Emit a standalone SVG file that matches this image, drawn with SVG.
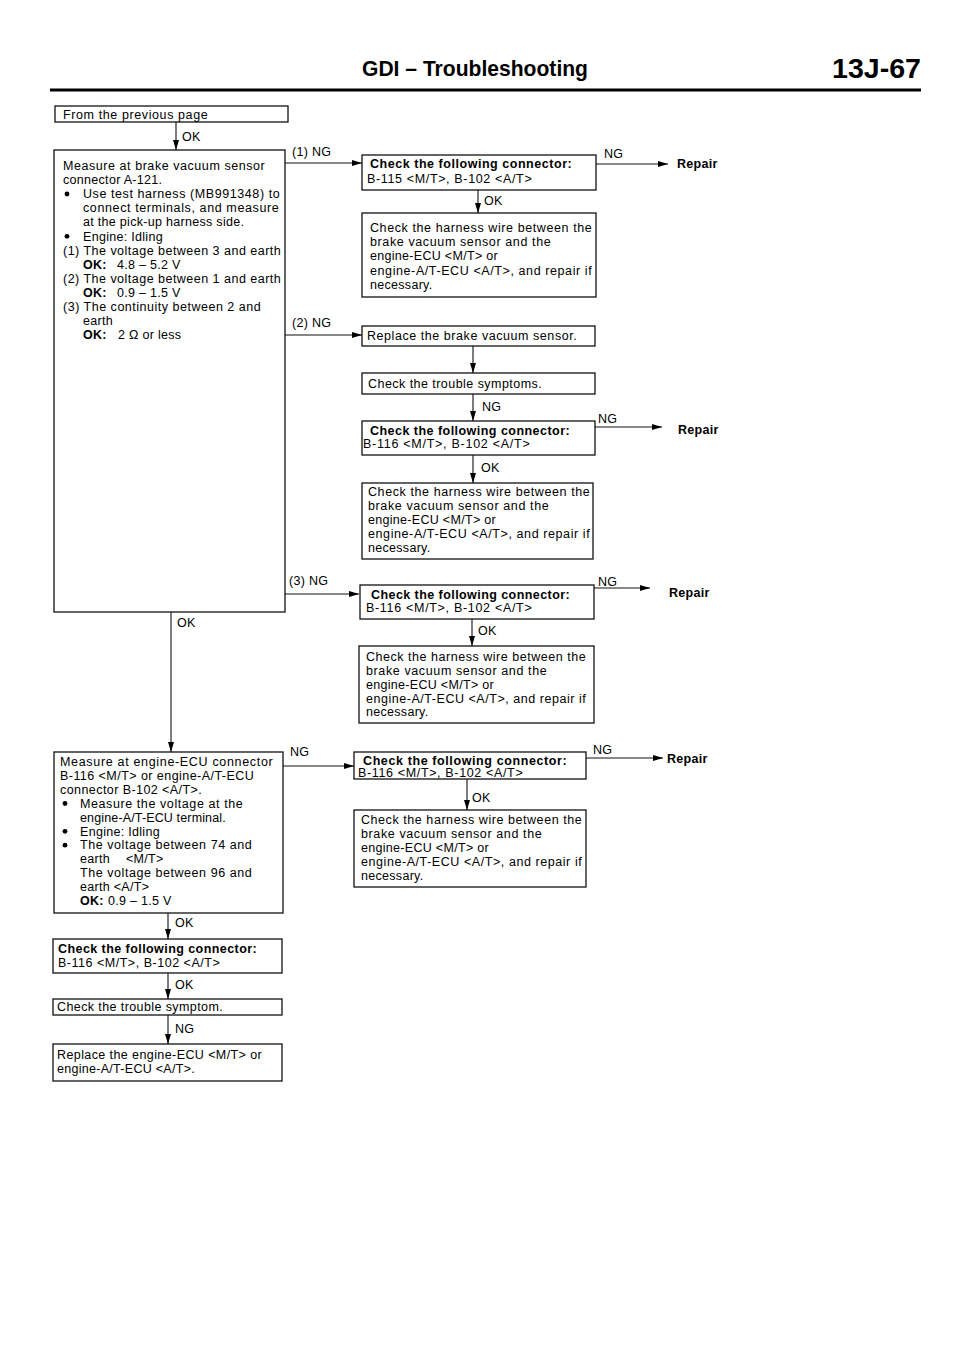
<svg xmlns="http://www.w3.org/2000/svg" width="960" height="1358" viewBox="0 0 960 1358">
<style>
.t{font-family:"Liberation Sans",Arial,Helvetica,sans-serif;font-size:12.5px;fill:#000;letter-spacing:0.3px}
.b{font-weight:bold}
.h{font-family:"Liberation Sans",Arial,Helvetica,sans-serif;font-weight:bold;fill:#000}
.box{fill:#fff;stroke:#111;stroke-width:1.3}
.ln{fill:none;stroke:#111;stroke-width:1.1}
</style>
<defs>
<marker id="ar" markerUnits="userSpaceOnUse" markerWidth="10" markerHeight="6" refX="10" refY="3" orient="auto">
<path d="M0,0 L10,3 L0,6 z" fill="#000"/>
</marker>
</defs>
<rect width="960" height="1358" fill="#fff"/>

<g id="header">
<text class="h" x="362" y="76" font-size="22" textLength="226" lengthAdjust="spacingAndGlyphs">GDI – Troubleshooting</text>
<text class="h" x="832" y="78" font-size="28" textLength="89" lengthAdjust="spacingAndGlyphs">13J-67</text>
<line x1="50" y1="90" x2="921" y2="90" stroke="#000" stroke-width="3"/>
</g>

<g id="connectors">
<line class="ln" x1="176" y1="122" x2="176" y2="150" marker-end="url(#ar)"/>
<text class="t" x="182" y="141">OK</text>
<line class="ln" x1="171" y1="612" x2="171" y2="752" marker-end="url(#ar)"/>
<text class="t" x="177" y="627">OK</text>
<line class="ln" x1="168" y1="913" x2="168" y2="939" marker-end="url(#ar)"/>
<text class="t" x="175" y="927">OK</text>
<line class="ln" x1="168" y1="973" x2="168" y2="999" marker-end="url(#ar)"/>
<text class="t" x="175" y="989">OK</text>
<line class="ln" x1="168" y1="1015" x2="168" y2="1044" marker-end="url(#ar)"/>
<text class="t" x="175" y="1033">NG</text>

<line class="ln" x1="285" y1="163" x2="362" y2="163" marker-end="url(#ar)"/>
<text class="t" x="292" y="156">(1) NG</text>
<line class="ln" x1="285" y1="335" x2="362" y2="335" marker-end="url(#ar)"/>
<text class="t" x="292" y="327">(2) NG</text>
<line class="ln" x1="285" y1="594" x2="359" y2="594" marker-end="url(#ar)"/>
<text class="t" x="289" y="585">(3) NG</text>
<line class="ln" x1="283" y1="766" x2="354" y2="766" marker-end="url(#ar)"/>
<text class="t" x="290" y="756">NG</text>

<line class="ln" x1="478" y1="190" x2="478" y2="213" marker-end="url(#ar)"/>
<text class="t" x="484" y="205">OK</text>
<line class="ln" x1="473" y1="346" x2="473" y2="373" marker-end="url(#ar)"/>
<line class="ln" x1="473" y1="394" x2="473" y2="421" marker-end="url(#ar)"/>
<text class="t" x="482" y="411">NG</text>
<line class="ln" x1="473" y1="455" x2="473" y2="483" marker-end="url(#ar)"/>
<text class="t" x="481" y="472">OK</text>
<line class="ln" x1="472" y1="619" x2="472" y2="646" marker-end="url(#ar)"/>
<text class="t" x="478" y="635">OK</text>
<line class="ln" x1="467" y1="779" x2="467" y2="810" marker-end="url(#ar)"/>
<text class="t" x="472" y="802">OK</text>

<line class="ln" x1="596" y1="164" x2="668" y2="164" marker-end="url(#ar)"/>
<text class="t" x="604" y="158">NG</text>
<text class="t b" x="677" y="168">Repair</text>
<line class="ln" x1="595" y1="427" x2="662" y2="427" marker-end="url(#ar)"/>
<text class="t" x="598" y="423">NG</text>
<text class="t b" x="678" y="434">Repair</text>
<line class="ln" x1="594" y1="588" x2="650" y2="588" marker-end="url(#ar)"/>
<text class="t" x="598" y="586">NG</text>
<text class="t b" x="669" y="597">Repair</text>
<line class="ln" x1="586" y1="758" x2="663" y2="758" marker-end="url(#ar)"/>
<text class="t" x="593" y="754">NG</text>
<text class="t b" x="667" y="763">Repair</text>
</g>

<g id="n0">
<rect class="box" x="55" y="106" width="233" height="16"/>
<text class="t" x="63" y="119" textLength="145">From the previous page</text>
</g>

<g id="n1">
<rect class="box" x="54" y="150" width="231" height="462"/>
<text class="t" x="63" y="170" textLength="202">Measure at brake vacuum sensor</text>
<text class="t" x="63" y="184.1">connector A-121.</text>
<circle cx="67" cy="194" r="2.4" fill="#000"/>
<text class="t" x="83" y="198.2" textLength="197">Use test harness (MB991348) to</text>
<text class="t" x="83" y="212.3" textLength="196">connect terminals, and measure</text>
<text class="t" x="83" y="226.4">at the pick-up harness side.</text>
<circle cx="67" cy="236.3" r="2.4" fill="#000"/>
<text class="t" x="83" y="240.5">Engine: Idling</text>
<text class="t" x="63" y="254.6" textLength="218">(1) The voltage between 3 and earth</text>
<text class="t" x="83" y="268.7"><tspan class="b">OK:</tspan><tspan x="117">4.8 – 5.2 V</tspan></text>
<text class="t" x="63" y="282.8" textLength="218">(2) The voltage between 1 and earth</text>
<text class="t" x="83" y="296.9"><tspan class="b">OK:</tspan><tspan x="117">0.9 – 1.5 V</tspan></text>
<text class="t" x="63" y="311" textLength="198">(3) The continuity between 2 and</text>
<text class="t" x="83" y="325.1">earth</text>
<text class="t" x="83" y="339.2"><tspan class="b">OK:</tspan><tspan x="118">2 Ω or less</tspan></text>
</g>

<g id="n2">
<rect class="box" x="362" y="155" width="234" height="35"/>
<text class="t b" x="370" y="168" textLength="202">Check the following connector:</text>
<text class="t" x="367" y="183" textLength="165">B-115 &lt;M/T&gt;, B-102 &lt;A/T&gt;</text>
</g>

<g id="n3">
<rect class="box" x="362" y="213" width="234" height="84"/>
<text class="t" x="370" y="232" textLength="222">Check the harness wire between the</text>
<text class="t" x="370" y="246.2" textLength="181">brake vacuum sensor and the</text>
<text class="t" x="370" y="260.4">engine-ECU &lt;M/T&gt; or</text>
<text class="t" x="370" y="274.6" textLength="222">engine-A/T-ECU &lt;A/T&gt;, and repair if</text>
<text class="t" x="370" y="288.8">necessary.</text>
</g>

<g id="n4">
<rect class="box" x="362" y="326" width="233" height="20"/>
<text class="t" x="367" y="340" textLength="210">Replace the brake vacuum sensor.</text>
</g>

<g id="n5">
<rect class="box" x="362" y="373" width="233" height="21"/>
<text class="t" x="368" y="388" textLength="174">Check the trouble symptoms.</text>
</g>

<g id="n6">
<rect class="box" x="362" y="421" width="233" height="34"/>
<text class="t b" x="370" y="435" textLength="200">Check the following connector:</text>
<text class="t" x="363" y="447.5" textLength="167">B-116 &lt;M/T&gt;, B-102 &lt;A/T&gt;</text>
</g>

<g id="n7">
<rect class="box" x="362" y="483" width="231" height="76"/>
<text class="t" x="368" y="496" textLength="222">Check the harness wire between the</text>
<text class="t" x="368" y="510" textLength="181">brake vacuum sensor and the</text>
<text class="t" x="368" y="524">engine-ECU &lt;M/T&gt; or</text>
<text class="t" x="368" y="538" textLength="222">engine-A/T-ECU &lt;A/T&gt;, and repair if</text>
<text class="t" x="368" y="552">necessary.</text>
</g>

<g id="n8">
<rect class="box" x="360" y="585" width="234" height="34"/>
<text class="t b" x="371" y="599" textLength="199">Check the following connector:</text>
<text class="t" x="366" y="612" textLength="166">B-116 &lt;M/T&gt;, B-102 &lt;A/T&gt;</text>
</g>

<g id="n9">
<rect class="box" x="359" y="646" width="235" height="77"/>
<text class="t" x="366" y="661" textLength="220">Check the harness wire between the</text>
<text class="t" x="366" y="675" textLength="181">brake vacuum sensor and the</text>
<text class="t" x="366" y="689">engine-ECU &lt;M/T&gt; or</text>
<text class="t" x="366" y="702.5" textLength="220">engine-A/T-ECU &lt;A/T&gt;, and repair if</text>
<text class="t" x="366" y="716">necessary.</text>
</g>

<g id="n10">
<rect class="box" x="54" y="752" width="229" height="161"/>
<text class="t" x="60" y="766" textLength="213">Measure at engine-ECU connector</text>
<text class="t" x="60" y="779.9" textLength="194">B-116 &lt;M/T&gt; or engine-A/T-ECU</text>
<text class="t" x="60" y="793.8" textLength="142">connector B-102 &lt;A/T&gt;.</text>
<circle cx="65" cy="803.5" r="2.4" fill="#000"/>
<text class="t" x="80" y="807.7" textLength="163">Measure the voltage at the</text>
<text class="t" x="80" y="821.6" textLength="146">engine-A/T-ECU terminal.</text>
<circle cx="65" cy="831.3" r="2.4" fill="#000"/>
<text class="t" x="80" y="835.5">Engine: Idling</text>
<circle cx="65" cy="845.2" r="2.4" fill="#000"/>
<text class="t" x="80" y="849.4" textLength="172">The voltage between 74 and</text>
<text class="t" x="80" y="863.3">earth<tspan x="126">&lt;M/T&gt;</tspan></text>
<text class="t" x="80" y="877.2" textLength="172">The voltage between 96 and</text>
<text class="t" x="80" y="891.1">earth &lt;A/T&gt;</text>
<text class="t" x="80" y="905"><tspan class="b">OK:</tspan><tspan x="108">0.9 – 1.5 V</tspan></text>
</g>

<g id="n11">
<rect class="box" x="354" y="752" width="232" height="27"/>
<text class="t b" x="363" y="765" textLength="204">Check the following connector:</text>
<text class="t" x="358" y="777" textLength="165">B-116 &lt;M/T&gt;, B-102 &lt;A/T&gt;</text>
</g>

<g id="n12">
<rect class="box" x="354" y="810" width="232" height="77"/>
<text class="t" x="361" y="824" textLength="221">Check the harness wire between the</text>
<text class="t" x="361" y="838" textLength="181">brake vacuum sensor and the</text>
<text class="t" x="361" y="852">engine-ECU &lt;M/T&gt; or</text>
<text class="t" x="361" y="866" textLength="221">engine-A/T-ECU &lt;A/T&gt;, and repair if</text>
<text class="t" x="361" y="880">necessary.</text>
</g>

<g id="n13">
<rect class="box" x="53" y="939" width="229" height="34"/>
<text class="t b" x="58" y="953" textLength="199">Check the following connector:</text>
<text class="t" x="58" y="967" textLength="162">B-116 &lt;M/T&gt;, B-102 &lt;A/T&gt;</text>
</g>

<g id="n14">
<rect class="box" x="53" y="999" width="229" height="16"/>
<text class="t" x="57" y="1011" textLength="166">Check the trouble symptom.</text>
</g>

<g id="n15">
<rect class="box" x="53" y="1044" width="229" height="37"/>
<text class="t" x="57" y="1059" textLength="205">Replace the engine-ECU &lt;M/T&gt; or</text>
<text class="t" x="57" y="1073" textLength="138">engine-A/T-ECU &lt;A/T&gt;.</text>
</g>
</svg>
